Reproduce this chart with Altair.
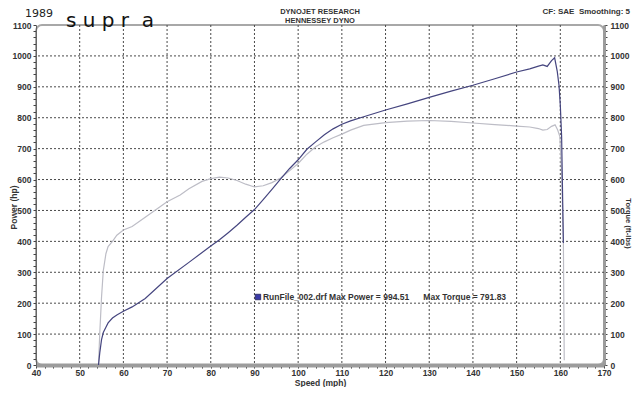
import altair as alt
import pandas as pd

# ---- data read from the dyno sheet ----
mph_power = [54.3, 54.6, 55.0, 55.4, 56.0, 56.5, 57.5, 58.5, 60, 62, 65, 70, 75, 80, 82, 84, 86, 88,
             90, 92, 94, 96, 98, 100, 102, 104, 106, 108, 110, 112, 115, 120, 125, 130, 135, 140,
             145, 150, 153, 155, 156, 157, 158, 158.7, 159.3, 159.7, 160.0, 160.3, 160.7]
power = [0, 40, 82, 105, 122, 136, 152, 162, 174, 188, 215, 280, 332, 385, 405, 428, 452, 478,
         503, 535, 568, 602, 635, 664, 698, 722, 745, 764, 779, 790, 803, 825, 845, 866, 886, 905,
         926, 948, 958, 967, 971, 966, 985, 994, 950, 905, 840, 740, 395]

mph_torque = [54.3, 54.6, 55.0, 55.4, 56.0, 56.5, 57.5, 58.5, 60, 62, 65, 70, 73, 75, 78, 80, 82,
              84, 86, 88, 90, 92, 94, 96, 98, 100, 102, 104, 106, 108, 110, 112, 115, 120, 125,
              130, 135, 140, 145, 150, 153, 155, 156, 157, 158, 158.8, 159.4, 159.9, 160.3, 160.7,
              160.9]
torque = [0, 104, 220, 305, 360, 383, 400, 420, 437, 448, 478, 528, 550, 570, 594, 603, 608,
          605, 597, 585, 576, 580, 590, 605, 628, 652, 682, 706, 722, 735, 747, 760, 775, 784, 789,
          791, 788, 783, 778, 773, 770, 765, 760, 762, 772, 777, 760, 739, 620, 404, 15]

x_ticks = list(range(40, 171, 2))
y_ticks = list(range(0, 1101, 20))
x_grid = list(range(50, 170, 10))
y_grid = list(range(100, 1100, 100))

NB = "\u00a0"
title_line1 = "DYNOJET RESEARCH"
title_line2 = "HENNESSEY DYNO"
corner_note = "CF: SAE" + NB * 2 + "Smoothing: 5"
hand_year = "1989"
hand_word = NB.join(["s", "u", "p", "r", NB + "a"])
run_label = "RunFile_002.drf Max Power = 994.51" + NB * 6 + "Max Torque = 791.83"
run_pos_mph = [90.8]
run_pos_val = [220]

FONT = "Liberation Sans"
TXT = "#333333"

xs = alt.Scale(domain=[40, 170], nice=False, zero=False)
ys = alt.Scale(domain=[0, 1100], nice=False, zero=False)

pdf = pd.DataFrame({"mph": mph_power, "value": power})
tdf = pd.DataFrame({"mph": mph_torque, "value": torque})

grid_v = alt.Chart(pd.DataFrame({"mph": x_grid})).mark_rule(
    color="#4a4a4a", strokeDash=[2, 2], strokeWidth=1
).encode(x=alt.X("mph:Q", scale=xs, axis=None))

grid_h = alt.Chart(pd.DataFrame({"value": y_grid})).mark_rule(
    color="#4a4a4a", strokeDash=[2, 2], strokeWidth=1
).encode(y=alt.Y("value:Q", scale=ys, axis=None))

lab10 = "datum.value % 10 == 0 ? format(datum.value, 'd') : ''"
lab100 = "datum.value % 100 == 0 ? format(datum.value, 'd') : ''"

power_line = alt.Chart(pdf).mark_line(color="#45457f", strokeWidth=1.2).encode(
    x=alt.X("mph:Q", scale=xs, axis=alt.Axis(
        orient="bottom", values=x_ticks, labelExpr=lab10, grid=False,
        title="Speed (mph)", titleX=284, titleY=17, titleBaseline="middle",
        labelFlush=False, labelOverlap=False, labelPadding=0,
        tickSize=3, tickColor="#333333",
        domainColor="#9c9c9c", domainWidth=4,
        labelFont=FONT, labelFontSize=8.5, labelFontWeight="bold", labelColor=TXT,
        titleFont=FONT, titleFontSize=8.5, titleFontWeight="bold", titleColor=TXT)),
    y=alt.Y("value:Q", scale=ys, axis=alt.Axis(
        orient="left", values=y_ticks, labelExpr=lab100, grid=False,
        title="Power (hp)", titleX=-23, titleY=182, titleAngle=270,
        titleAlign="center", titleBaseline="middle",
        labelFlush=False, labelOverlap=False, labelPadding=2,
        tickSize=3, tickColor="#444444",
        domainColor="#666666", domainWidth=1,
        labelFont=FONT, labelFontSize=8.5, labelFontWeight="bold", labelColor=TXT,
        titleFont=FONT, titleFontSize=8.5, titleFontWeight="bold", titleColor=TXT)),
)

torque_line = alt.Chart(tdf).mark_line(color="#bdbdc6", strokeWidth=1.2).encode(
    x=alt.X("mph:Q", scale=xs, axis=None),
    y=alt.Y("value:Q", scale=ys, axis=alt.Axis(
        orient="right", values=y_ticks, labelExpr=lab100, grid=False,
        title="Torque (ft-lbs)", titleX=23, titleY=198, titleAngle=90,
        titleAlign="center", titleBaseline="middle",
        labelFlush=False, labelOverlap=False, labelPadding=3,
        tickSize=3, tickColor="#444444",
        domainColor="#9c9c9c", domainWidth=3,
        labelFont=FONT, labelFontSize=8.5, labelFontWeight="bold", labelColor=TXT,
        titleFont=FONT, titleFontSize=7.5, titleFontWeight="bold", titleColor=TXT)),
)

ann_df = pd.DataFrame({"mph": run_pos_mph, "value": run_pos_val, "label": [run_label]})
ann_sq = alt.Chart(ann_df).mark_square(
    size=30, color="#3a3aa8", stroke="#22225a", strokeWidth=0.8, opacity=1
).encode(x=alt.X("mph:Q", scale=xs, axis=None), y=alt.Y("value:Q", scale=ys, axis=None))
ann_txt = alt.Chart(ann_df).mark_text(
    align="left", baseline="middle", dx=5, font=FONT, fontSize=8.5, fontWeight="bold", color=TXT
).encode(x=alt.X("mph:Q", scale=xs, axis=None), y=alt.Y("value:Q", scale=ys, axis=None),
         text="label:N")


def head_text(txt, y):
    return alt.Chart(pd.DataFrame({"t": [txt]})).mark_text(
        align="center", baseline="top", font=FONT, fontSize=7.5, fontWeight="bold", color=TXT
    ).encode(x=alt.value(284), y=alt.value(y), text="t:N")


head1 = head_text(title_line1, -17)
head2 = head_text(title_line2, -8)

note = alt.Chart(pd.DataFrame({"t": [corner_note]})).mark_text(
    align="right", baseline="top", font=FONT, fontSize=8, fontWeight="bold", color=TXT
).encode(x=alt.value(594), y=alt.value(-17), text="t:N")

year = alt.Chart(pd.DataFrame({"t": [hand_year]})).mark_text(
    align="left", baseline="middle", font="DejaVu Sans", fontSize=11, color="#222222"
).encode(x=alt.value(-11), y=alt.value(-11), text="t:N")

word = alt.Chart(pd.DataFrame({"t": [hand_word]})).mark_text(
    align="left", baseline="alphabetic", font="DejaVu Sans", fontSize=20, color="#111111"
).encode(x=alt.value(30), y=alt.value(1.5), text="t:N")

chart = alt.layer(
    grid_v, grid_h, torque_line, power_line, ann_sq, ann_txt, head1, head2, note, year, word
).resolve_scale(x="independent", y="independent").properties(
    width=568, height=340,
    autosize=alt.AutoSizeParams(type="none"),
    padding={"left": 28, "top": 17, "right": 28, "bottom": 22},
    background="white",
).configure_view(stroke="#a8a8a8", strokeWidth=2, cornerRadius=6)

chart.save("out.html", embed_options={"renderer": "svg", "actions": False})
